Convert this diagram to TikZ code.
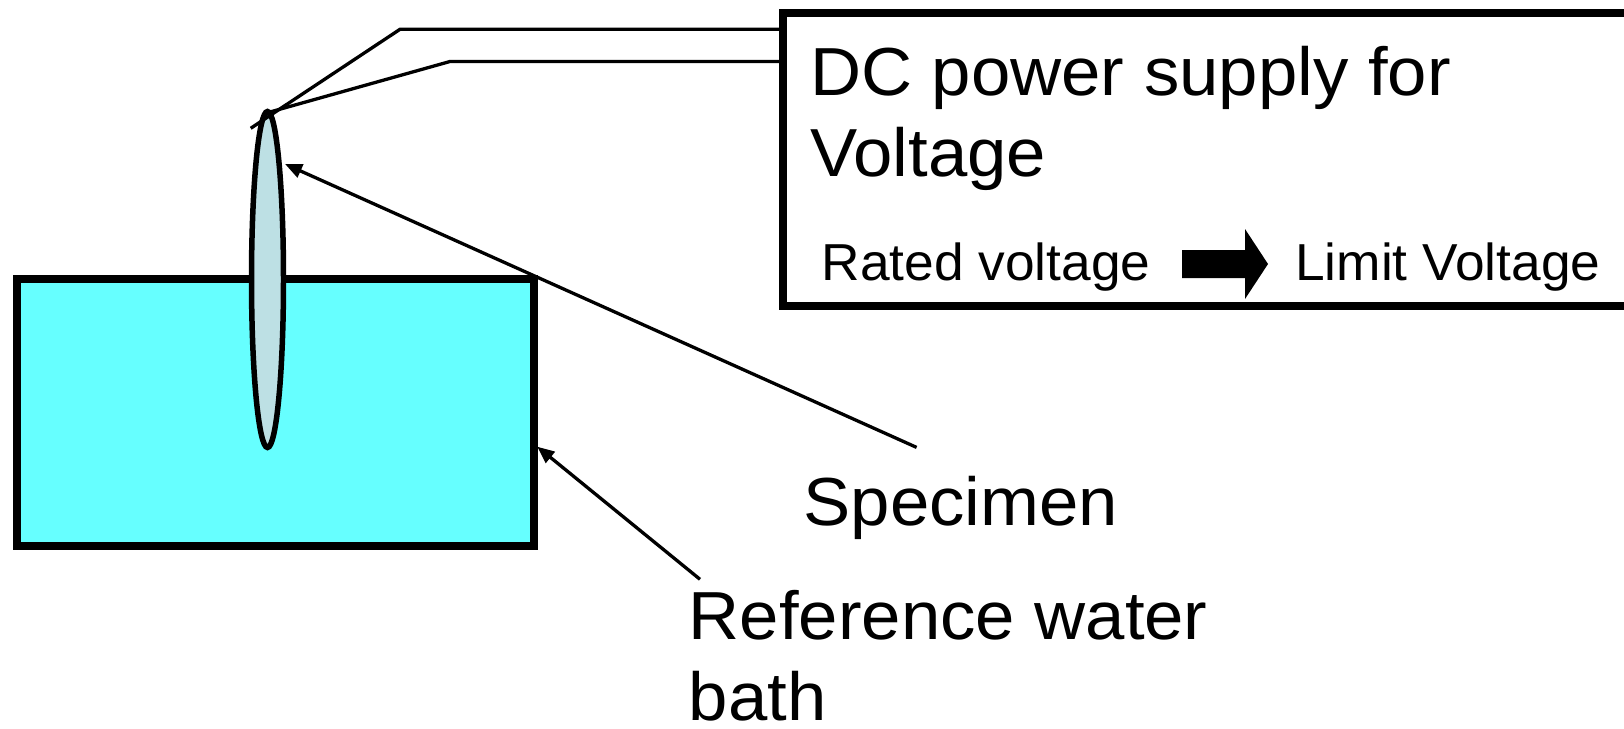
\documentclass[tikz,border=0pt]{standalone}
\usepackage{fontspec}
\setmainfont{Liberation Sans}
\newfontfamily\bigfam{Liberation Sans}[FakeStretch=1.04]
\newfontfamily\smallfam{Liberation Sans}[FakeStretch=1.025]
\usetikzlibrary{arrows.meta,shapes.geometric}
\definecolor{bathcyan}{RGB}{102,255,255}
\definecolor{specblue}{RGB}{189,224,228}
\newcommand\bigf{\bigfam\fontsize{68}{82}\selectfont}
\newcommand\smallf{\smallfam\fontsize{52}{62}\selectfont}
\tikzset{
  wire/.style={line width=3.3pt, line join=miter},
  pointer/.style={line width=3.3pt, -{Triangle[length=17pt,width=14pt]}},
  bigtext/.style={anchor=base west, inner sep=0pt, font=\bigf},
  smalltext/.style={anchor=base west, inner sep=0pt, font=\smallf},
  bathbox/.style={draw, line width=8pt, fill=bathcyan, rectangle, inner sep=0pt},
  specshape/.style={draw, line width=5.5pt, fill=specblue, ellipse, inner sep=0pt},
  supplybox/.style={draw, line width=8pt, fill=white, rectangle, inner sep=0pt}
}
\begin{document}
\begin{tikzpicture}[x=1pt,y=-1pt]
\useasboundingbox (0,0) rectangle (1624,728);
\clip (0,0) rectangle (1624,728);
% power supply box (right side runs off the picture)
\node[supplybox, minimum width=860pt, minimum height=293.5pt] (psu) at (1213.3,159.25) {};
% bath
\node[bathbox, minimum width=516.6pt, minimum height=266.5pt] (bath) at (275.7,412.25) {};
% specimen
\node[specshape, minimum width=32pt, minimum height=336pt] (spec) at (267.5,279.5) {};
% wires
\coordinate (wa0) at (250.7,128.3);
\coordinate (wa1) at (400,29.3);
\coordinate (wb0) at (270,112);
\coordinate (wb1) at (450,61.5);
\draw[wire] (wa0) -- (wa1) -- (wa1 -| psu.west);
\draw[wire] (wb0) -- (wb1) -- (wb1 -| psu.west);
% texts in box
\node[bigtext] (dc1) at (810,95) {DC power supply for};
\node[bigtext] (dc2) at (810,176.7) {Voltage};
\node[smalltext] (rated) at (821.5,280) {Rated voltage};
\node[smalltext] (limit) at (1295,280) {Limit Voltage};
\fill (1182,250) -- (1245,250) -- (1245,229) -- (1268,264) -- (1245,299) -- (1245,278) -- (1182,278) -- cycle;
% labels
\node[bigtext] (spectext) at (803.5,525) {Specimen};
\node[bigtext] (ref1) at (688.6,639) {Reference water};
\node[bigtext] (ref2) at (688.6,720) {bath};
% pointers
\coordinate (spectail) at (916.6,447.4);
\coordinate (spectip) at (285,164);
\coordinate (bathtail) at (700,579.3);
\coordinate (bathtip) at (537.3,446.7);
\draw[pointer] (spectail) -- (spectip);
\draw[pointer] (bathtail) -- (bathtip);
\end{tikzpicture}
\end{document}
